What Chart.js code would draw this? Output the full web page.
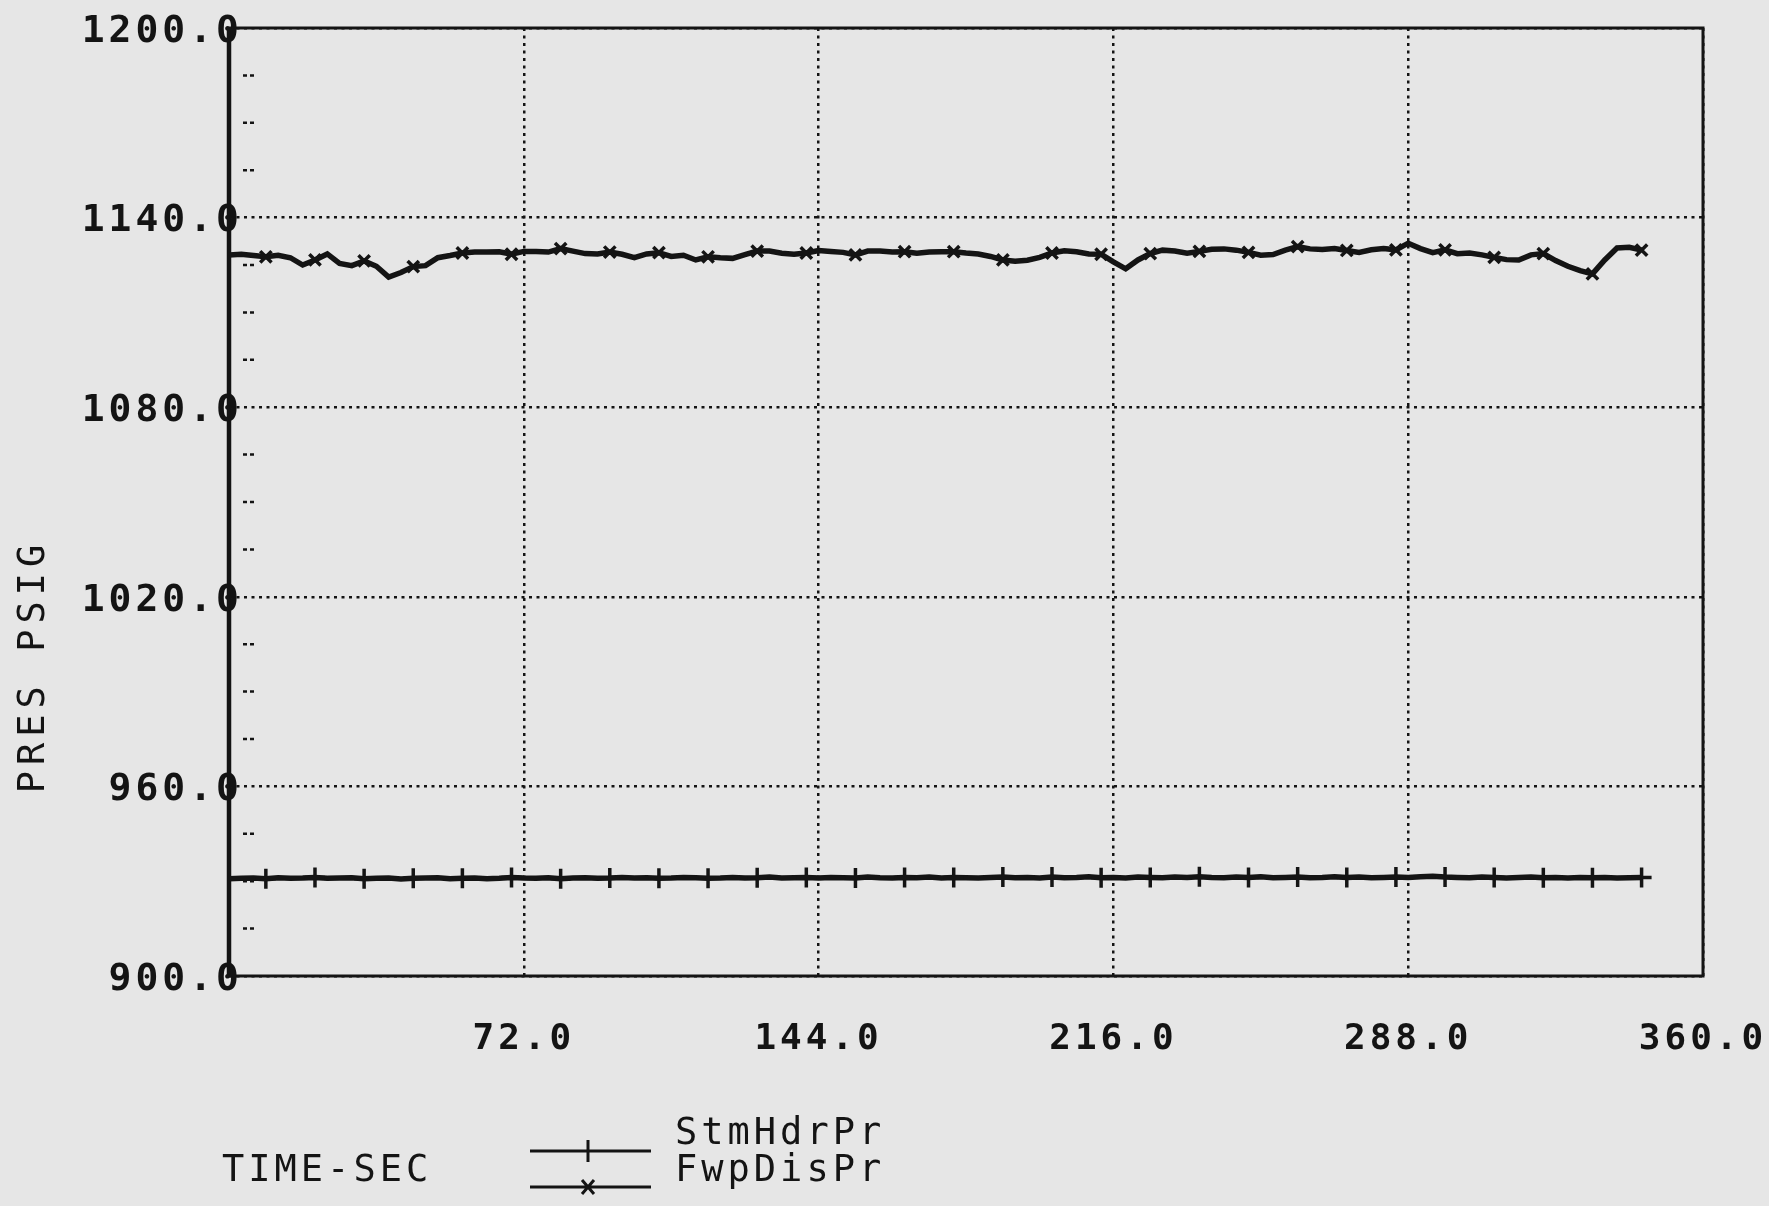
<!DOCTYPE html>
<html lang="en">
<head>
    <meta charset="UTF-8">
    <title>PRES PSIG vs TIME-SEC</title>
    <script src="https://cdn.jsdelivr.net/npm/chart.js@4.4.1/dist/chart.umd.min.js"></script>
    <style>
        html, body {
            margin: 0;
            padding: 0;
            background-color: #e6e6e6;
        }

        .chart-box {
            position: relative;
            width: 1769px;
            height: 1206px;
        }
    </style>
</head>
<body>

    <div class="chart-box">
        <canvas id="presChart"></canvas>
    </div>

    <script>
        // time of each sample, seconds
        const timeSec = [0, 3, 6, 9, 12, 15, 18, 21, 24, 27, 30, 33, 36, 39, 42, 45,
            48, 51, 54, 57, 60, 63, 66, 69, 72, 75, 78, 81, 84, 87, 90, 93,
            96, 99, 102, 105, 108, 111, 114, 117, 120, 123, 126, 129, 132, 135, 138, 141,
            144, 147, 150, 153, 156, 159, 162, 165, 168, 171, 174, 177, 180, 183, 186, 189,
            192, 195, 198, 201, 204, 207, 210, 213, 216, 219, 222, 225, 228, 231, 234, 237,
            240, 243, 246, 249, 252, 255, 258, 261, 264, 267, 270, 273, 276, 279, 282, 285,
            288, 291, 294, 297, 300, 303, 306, 309, 312, 315, 318, 321, 324, 327, 330, 333,
            336, 339, 342, 345];

        // steam header pressure (+ markers)
        const stmHdrPr = [930.8, 930.9, 931.0, 930.8, 931.1, 930.9, 931.0, 931.2, 930.9, 931.0, 931.1, 930.8, 930.9, 931.0, 930.7, 930.9,
            931.0, 931.1, 930.8, 930.9, 931.0, 930.8, 930.9, 931.2, 931.0, 930.9, 931.1, 930.8, 931.0, 931.1, 930.9, 931.0,
            931.2, 931.0, 931.1, 930.9, 931.0, 931.2, 931.1, 930.9, 931.0, 931.2, 931.0, 931.1, 931.3, 931.0, 931.1, 931.2,
            931.0, 931.2, 931.1, 931.0, 931.3, 931.1, 931.0, 931.2, 931.1, 931.3, 931.0, 931.2, 931.1, 931.0, 931.2, 931.3,
            931.1, 931.2, 931.0, 931.3, 931.1, 931.2, 931.4, 931.1, 931.2, 931.0, 931.3, 931.2, 931.1, 931.3, 931.2, 931.4,
            931.2, 931.1, 931.3, 931.2, 931.4, 931.1, 931.2, 931.3, 931.1, 931.2, 931.4, 931.2, 931.3, 931.1, 931.2, 931.3,
            931.2, 931.4, 931.6, 931.3, 931.2, 931.1, 931.3, 931.2, 931.0, 931.2, 931.3, 931.1, 931.2, 931.0, 931.2, 931.1,
            931.2, 931.0, 931.1, 931.2];

        // feedwater pump discharge pressure (x markers)
        const fwpDisPr = [1128.2, 1128.4, 1128.0, 1127.6, 1128.1, 1127.3, 1125.0, 1126.6, 1128.5, 1125.5, 1124.8, 1126.3, 1124.6, 1121.2, 1122.6, 1124.5,
            1124.8, 1127.3, 1128.0, 1128.8, 1129.1, 1129.1, 1129.2, 1128.4, 1129.3, 1129.3, 1129.1, 1130.2, 1129.4, 1128.6, 1128.5, 1129.1,
            1128.4, 1127.3, 1128.5, 1128.9, 1127.7, 1128.1, 1126.6, 1127.6, 1127.3, 1127.1, 1128.3, 1129.4, 1129.4, 1128.7, 1128.4, 1128.8,
            1129.6, 1129.3, 1129.0, 1128.2, 1129.4, 1129.4, 1129.1, 1129.2, 1128.7, 1129.1, 1129.2, 1129.2, 1128.8, 1128.5, 1127.7, 1126.6,
            1126.2, 1126.5, 1127.4, 1128.8, 1129.5, 1129.2, 1128.5, 1128.4, 1126.0, 1123.8, 1126.6, 1128.6, 1129.7, 1129.4, 1128.7, 1129.3,
            1130.0, 1130.1, 1129.7, 1129.0, 1128.1, 1128.3, 1129.7, 1130.8, 1130.1, 1129.9, 1130.2, 1129.6, 1129.0, 1129.8, 1130.2, 1129.8,
            1131.9, 1130.2, 1128.9, 1129.8, 1128.6, 1128.8, 1128.2, 1127.4, 1126.7, 1126.6, 1128.2, 1128.6, 1126.4, 1124.6, 1123.2, 1122.2,
            1126.6, 1130.4, 1130.6, 1129.7];

        const seriesNames = ['StmHdrPr', 'FwpDisPr'];
        const xTitle = 'TIME-SEC';
        const yTitle = 'PRES PSIG';
        const xMin = 0, xMax = 360, xStep = 72;
        const yMin = 900, yMax = 1200, yStep = 60, yMinorStep = 15;

        const ink = '#141414';
        const markerEvery = 4;

        // plotter look: frame, y labels over the axis, minor ticks, titles and the key
        const plotterDecor = {
            id: 'plotterDecor',
            beforeDraw(chart) {
                const ctx = chart.ctx;
                const a = chart.chartArea;
                ctx.save();
                ctx.fillStyle = '#e6e6e6';
                ctx.fillRect(0, 0, chart.width, chart.height);

                ctx.strokeStyle = ink;
                ctx.lineWidth = 3;
                ctx.strokeRect(a.left, a.top, a.right - a.left, a.bottom - a.top);
                ctx.lineWidth = 4.5;
                ctx.beginPath();
                ctx.moveTo(a.left, a.top);
                ctx.lineTo(a.left, a.bottom);
                ctx.stroke();
                ctx.restore();
                ctx.letterSpacing = '4px';
            },
            afterDraw(chart) {
                const ctx = chart.ctx;
                const a = chart.chartArea;
                const yScale = chart.scales.y;

                ctx.save();
                ctx.strokeStyle = ink;
                ctx.fillStyle = ink;

                // y tick labels: the last digit sits on top of the axis line
                ctx.font = 'bold 38px "DejaVu Sans Mono"';
                ctx.letterSpacing = '4px';
                ctx.textAlign = 'right';
                ctx.textBaseline = 'middle';
                yScale.ticks.forEach((t) => {
                    const y = yScale.getPixelForValue(t.value);
                    ctx.fillText(t.value.toFixed(1), a.left + 14, y + 4);
                });

                // small dashes between the labelled y ticks
                ctx.lineWidth = 2.5;
                ctx.setLineDash([4, 3]);
                for (let v = yMin + yMinorStep; v < yMax; v += yMinorStep) {
                    if ((v - yMin) % yStep === 0) continue;
                    const y = yScale.getPixelForValue(v);
                    ctx.beginPath();
                    ctx.moveTo(a.left + 14, y);
                    ctx.lineTo(a.left + 26, y);
                    ctx.stroke();
                }
                ctx.setLineDash([]);

                ctx.font = '37px "DejaVu Sans Mono"';
                ctx.textAlign = 'left';
                ctx.fillText(xTitle, 222, 1171);
                ctx.fillText(seriesNames[0], 675, 1134);
                ctx.fillText(seriesNames[1], 675, 1171);

                ctx.save();
                ctx.translate(34, 666);
                ctx.rotate(-Math.PI / 2);
                ctx.textAlign = 'center';
                ctx.letterSpacing = '6px';
                ctx.fillText(yTitle, 0, 0);
                ctx.restore();

                // key lines
                ctx.lineWidth = 3;
                ctx.beginPath();
                ctx.moveTo(530, 1151); ctx.lineTo(651, 1151);
                ctx.moveTo(588, 1140); ctx.lineTo(588, 1162);
                ctx.moveTo(530, 1187); ctx.lineTo(651, 1187);
                ctx.moveTo(582, 1180); ctx.lineTo(594, 1194);
                ctx.moveTo(594, 1180); ctx.lineTo(582, 1194);
                ctx.stroke();
                ctx.restore();
            }
        };

        const toPoints = (vals) => vals.map((v, i) => ({ x: timeSec[i], y: v }));

        new Chart(document.getElementById('presChart'), {
            type: 'line',
            data: {
                datasets: [{
                    label: seriesNames[0],
                    data: toPoints(stmHdrPr),
                    borderColor: ink,
                    borderWidth: 5.5,
                    tension: 0,
                    pointStyle: 'cross',
                    pointRadius: (c) => (c.dataIndex % markerEvery === 3 ? 10 : 0),
                    pointBorderColor: ink,
                    pointBorderWidth: 3.5
                }, {
                    label: seriesNames[1],
                    data: toPoints(fwpDisPr),
                    borderColor: ink,
                    borderWidth: 5.5,
                    tension: 0,
                    pointStyle: 'crossRot',
                    pointRadius: (c) => (c.dataIndex % markerEvery === 3 ? 8 : 0),
                    pointBorderColor: ink,
                    pointBorderWidth: 3.5
                }]
            },
            options: {
                responsive: true,
                maintainAspectRatio: false,
                animation: false,
                events: [],
                layout: {
                    padding: { top: 28, right: 66, left: 0, bottom: 0 }
                },
                plugins: {
                    legend: { display: false },
                    tooltip: { enabled: false }
                },
                scales: {
                    x: {
                        type: 'linear',
                        min: xMin,
                        max: xMax,
                        afterFit: (s) => {
                            s.height = 230;
                            s.paddingLeft = 0;
                            s.paddingRight = 0;
                        },
                        ticks: {
                            stepSize: xStep,
                            maxRotation: 0,
                            autoSkip: false,
                            padding: 42,
                            color: ink,
                            font: { family: 'DejaVu Sans Mono', size: 36, weight: 'bold' },
                            callback: (v) => (v === xMin ? '' : v.toFixed(1))
                        },
                        grid: { color: ink, lineWidth: 2.5, drawTicks: false },
                        border: { display: false, dash: [3, 4.5] }
                    },
                    y: {
                        min: yMin,
                        max: yMax,
                        afterFit: (s) => {
                            s.width = 229;
                            s.paddingTop = 0;
                            s.paddingBottom = 0;
                        },
                        ticks: {
                            stepSize: yStep,
                            display: false
                        },
                        grid: { color: ink, lineWidth: 2.5, drawTicks: false },
                        border: { display: false, dash: [3, 4.5] }
                    }
                }
            },
            plugins: [plotterDecor]
        });
    </script>
</body>
</html>
